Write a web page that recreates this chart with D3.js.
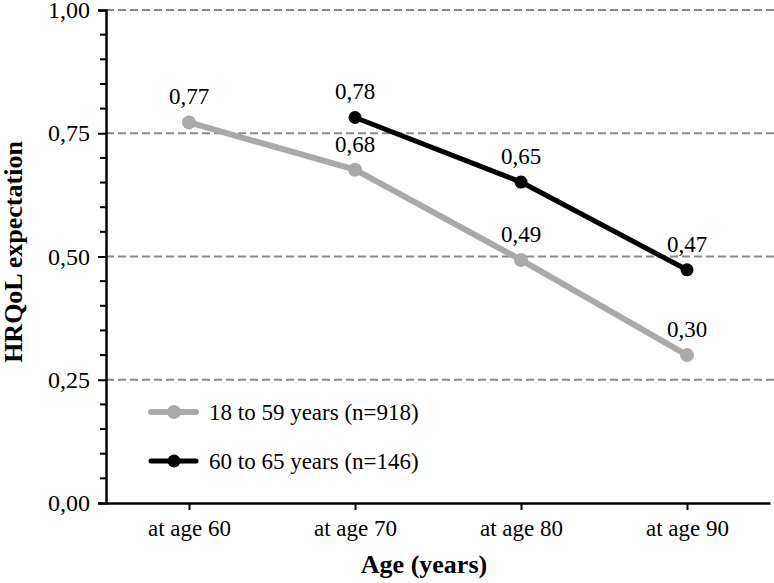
<!DOCTYPE html>
<html><head><meta charset="utf-8">
<script src="https://cdn.jsdelivr.net/npm/d3@7"></script>
<style>body{margin:0;background:#fff}svg{display:block}text{font-family:"Liberation Serif","Times New Roman",serif}</style>
</head><body>
<svg id="c" width="774" height="583"></svg>
<script>
const categories = ["at age 60", "at age 70", "at age 80", "at age 90"];
const seriesNames = ["18 to 59 years (n=918)", "60 to 65 years (n=146)"];
const young = [0.772, 0.676, 0.493, 0.300];
const old = [null, 0.782, 0.651, 0.473];
const yTicks = [0, 0.25, 0.5, 0.75, 1.0];
const yMinor = [0.05,0.1,0.15,0.2,0.3,0.35,0.4,0.45,0.55,0.6,0.65,0.7,0.8,0.85,0.9,0.95];

const svg = d3.select("#c");
const L = 106, R = 770, T = 10, B = 503;
const x = d3.scalePoint().domain(categories).range([L, R]).padding(0.5);
const y = d3.scaleLinear().domain([0, 1]).range([B, T]);
const fmt = v => d3.format(".2f")(v).replace(".", ",");

// gridlines
svg.append("g").selectAll("line").data(yTicks.filter(d => d > 0)).join("line")
  .attr("x1", L).attr("x2", 774).attr("y1", d => y(d)).attr("y2", d => y(d))
  .attr("stroke", "#8a8a8a").attr("stroke-width", 2).attr("stroke-dasharray", "8,4");

// y axis
const ya = svg.append("g").attr("transform", `translate(${L},0)`)
  .call(d3.axisLeft(y).tickValues(yTicks).tickFormat(fmt).tickSize(8).tickPadding(8));
ya.select(".domain").attr("stroke", "#000").attr("stroke-width", 2.5);
ya.selectAll(".tick line").attr("stroke", "#000").attr("stroke-width", 2);
ya.selectAll("text").attr("font-size", 24).attr("fill", "#000").attr("font-family", "Liberation Serif");
svg.append("g").selectAll("line").data(yMinor).join("line")
  .attr("x1", L - 6).attr("x2", L).attr("y1", d => y(d)).attr("y2", d => y(d))
  .attr("stroke", "#000").attr("stroke-width", 2);

// x axis
const xa = svg.append("g").attr("transform", `translate(0,${B})`)
  .call(d3.axisBottom(x).tickSize(7).tickPadding(10).tickSizeOuter(0));
xa.select(".domain").attr("stroke", "#000").attr("stroke-width", 2.5);
xa.selectAll(".tick line").attr("stroke", "#000").attr("stroke-width", 2);
xa.selectAll("text").attr("font-size", 23).attr("fill", "#000").attr("font-family", "Liberation Serif");

// titles
svg.append("text").attr("x", 424).attr("y", 573).attr("text-anchor", "middle")
  .attr("font-weight", "bold").attr("font-size", 26).text("Age (years)");
svg.append("text").attr("transform", "translate(22,252) rotate(-90)").attr("text-anchor", "middle")
  .attr("font-weight", "bold").attr("font-size", 26).text("HRQoL expectation");

const series = [
  {vals: young, color: "#a9a9a9", w: 6, r: 7},
  {vals: old, color: "#000", w: 5, r: 6.5}
];
const line = d3.line().defined(d => d.v != null).x(d => x(d.c)).y(d => y(d.v));
series.forEach(s => {
  const pts = categories.map((c, i) => ({c, v: s.vals[i]}));
  svg.append("path").datum(pts).attr("d", line).attr("fill", "none")
    .attr("stroke", s.color).attr("stroke-width", s.w).attr("stroke-linejoin", "round");
  const p = pts.filter(d => d.v != null);
  svg.append("g").selectAll("circle").data(p).join("circle")
    .attr("cx", d => x(d.c)).attr("cy", d => y(d.v)).attr("r", s.r).attr("fill", s.color);
  svg.append("g").selectAll("text").data(p).join("text")
    .attr("x", d => x(d.c)).attr("y", d => y(d.v) - 18).attr("text-anchor", "middle")
    .attr("font-size", 23).attr("fill", "#000").text(d => fmt(d.v));
});

// legend
const lg = [{y: 412, s: series[0]}, {y: 461, s: series[1]}];
lg.forEach((d, i) => {
  svg.append("line").attr("x1", 151).attr("x2", 196).attr("y1", d.y).attr("y2", d.y)
    .attr("stroke", d.s.color).attr("stroke-width", d.s.w).attr("stroke-linecap", "round");
  svg.append("circle").attr("cx", 174).attr("cy", d.y).attr("r", d.s.r).attr("fill", d.s.color);
  svg.append("text").attr("x", 209).attr("y", d.y).attr("dy", "0.35em").attr("font-size", 23)
    .attr("fill", "#000").text(seriesNames[i]);
});
</script>
</body></html>
